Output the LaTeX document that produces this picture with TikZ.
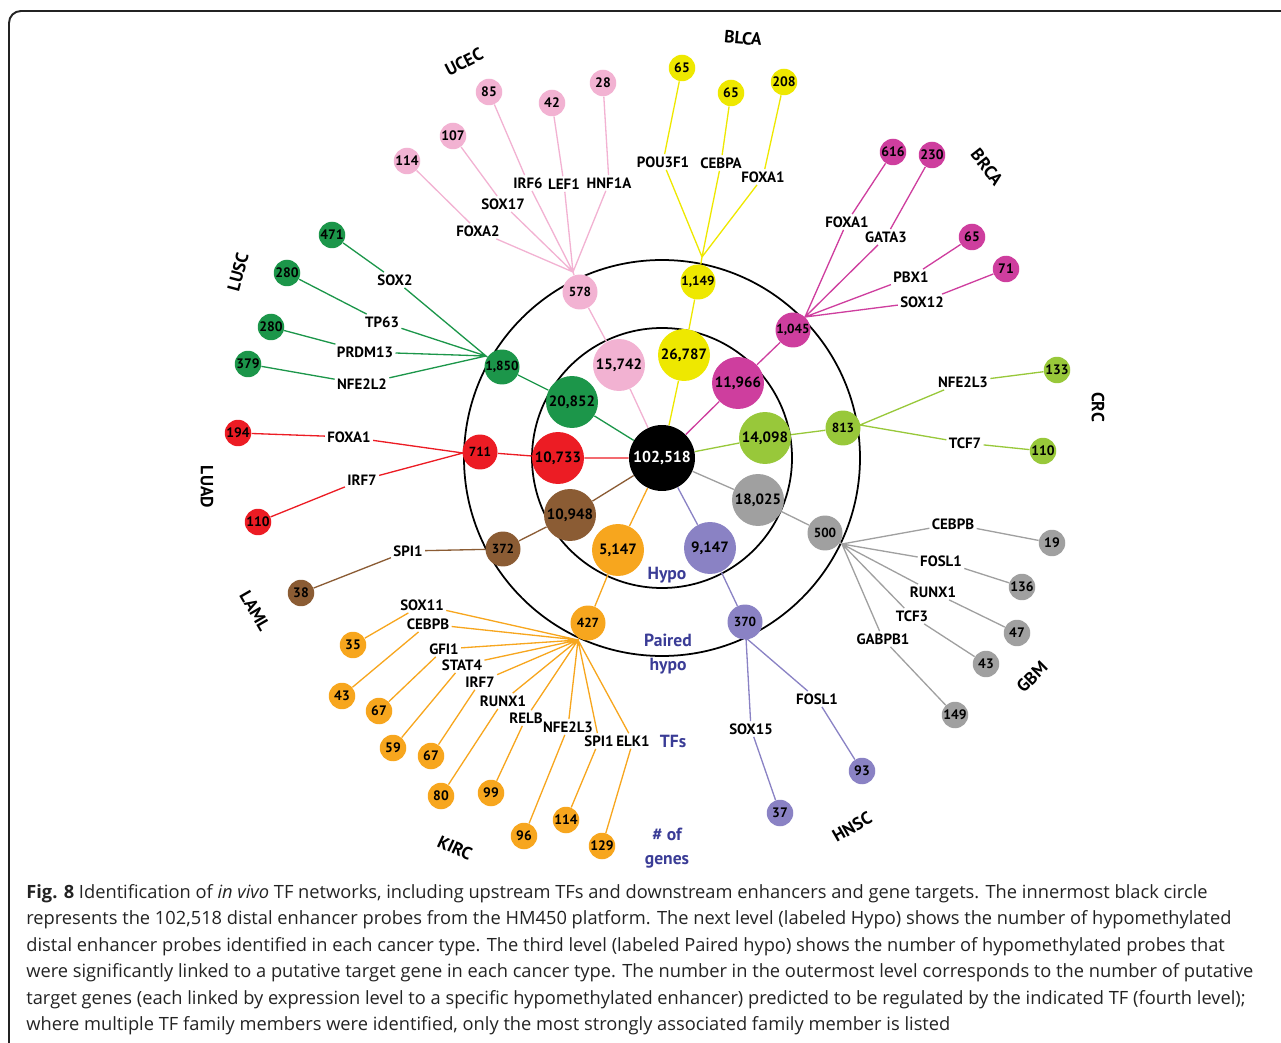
\documentclass[tikz,border=0pt]{standalone}
\usepackage{fontspec}
\setmainfont{PT Sans}
\newfontfamily\capfont{Open Sans}
\usepackage{xcolor}
\definecolor{ucec}{RGB}{242,178,210}
\definecolor{blca}{RGB}{238,232,0}
\definecolor{brca}{RGB}{206,62,158}
\definecolor{crc}{RGB}{152,200,58}
\definecolor{gbm}{RGB}{160,160,160}
\definecolor{hnsc}{RGB}{138,130,196}
\definecolor{kirc}{RGB}{247,166,30}
\definecolor{laml}{RGB}{139,92,52}
\definecolor{luad}{RGB}{236,28,36}
\definecolor{lusc}{RGB}{28,150,74}
\definecolor{lvlblue}{RGB}{58,60,150}
\definecolor{capgray}{RGB}{35,35,35}
\tikzset{
    tnode/.style = {align=center, inner sep=0pt, text centered},
    core_node/.style = {tnode, circle, fill=black, text=white, minimum size=1.32cm, font=\bfseries\fontsize{9}{10}\selectfont},
    hypo_node/.style = {tnode, circle, fill=#1, minimum size=1.04cm, font=\bfseries\fontsize{8.5}{10}\selectfont},
    pair_node/.style = {tnode, circle, fill=#1, minimum size=0.7cm, font=\bfseries\fontsize{7.5}{9}\selectfont},
    leaf_node/.style = {tnode, circle, fill=#1, minimum size=0.53cm, font=\bfseries\fontsize{7.8}{9}\selectfont},
    tf/.style = {tnode, inner sep=1.2pt, font=\bfseries\fontsize{8.5}{10}\selectfont},
    cancer/.style = {tnode, font=\bfseries\fontsize{10}{12}\selectfont},
    lvl/.style = {tnode, text=lvlblue, font=\bfseries\fontsize{10}{13.6}\selectfont},
    link/.style = {draw=#1, line width=0.75pt},
    ring/.style = {draw=black, line width=1pt},
    caption/.style = {align=left, inner sep=0pt, text=capgray, font=\capfont\fontsize{10.4}{15.1}\selectfont}
}
\begin{document}
\begin{tikzpicture}[x=0.02cm, y=-0.02cm]
\useasboundingbox (0,0) rectangle (1281,1043);
% frame
\draw[draw=capgray, line width=1.1pt, rounded corners=6.8pt] (9,1060) -- (9,11) -- (1300,11);
% levels
\coordinate (mid) at (662,458);
\draw[ring] (mid) circle[radius=198];
\draw[ring] (mid) circle[radius=130];
\node[core_node] (core) at (mid) {102,518};

% hypo level
\node[hypo_node=ucec] (h_ucec) at (619,365) {15,742};
\node[hypo_node=blca] (h_blca) at (684,355) {26,787};
\node[hypo_node=brca] (h_brca) at (738,383) {11,966};
\node[hypo_node=crc]  (h_crc)  at (765,438) {14,098};
\node[hypo_node=gbm]  (h_gbm)  at (758,500) {18,025};
\node[hypo_node=hnsc] (h_hnsc) at (710,548) {9,147};
\node[hypo_node=kirc] (h_kirc) at (618,550) {5,147};
\node[hypo_node=laml] (h_laml) at (570,515) {10,948};
\node[hypo_node=luad] (h_luad) at (558,458) {10,733};
\node[hypo_node=lusc] (h_lusc) at (572,402) {20,852};

% paired hypo level
\node[pair_node=ucec] (p_ucec) at (580,292) {578};
\node[pair_node=blca] (p_blca) at (698,282) {1,149};
\node[pair_node=brca] (p_brca) at (793,330) {1,045};
\node[pair_node=crc]  (p_crc)  at (843,428) {813};
\node[pair_node=gbm]  (p_gbm)  at (825,533) {500};
\node[pair_node=hnsc] (p_hnsc) at (745,622) {370};
\node[pair_node=kirc] (p_kirc) at (588,623) {427};
\node[pair_node=laml] (p_laml) at (503,549) {372};
\node[pair_node=luad] (p_luad) at (480,452) {711};
\node[pair_node=lusc] (p_lusc) at (502,367) {1,850};

\coordinate (hub_ucec) at (573,272);
\coordinate (hub_blca) at (702,257);
\coordinate (hub_brca) at (805,317);
\coordinate (hub_crc)  at (860,425);
\coordinate (hub_gbm)  at (842,544);
\coordinate (hub_hnsc) at (746,638);
\coordinate (hub_kirc) at (578,640);
\coordinate (hub_luad) at (463,453);
\coordinate (hub_lusc) at (486,356);

% level labels
\node[lvl] (lv_hypo) at (667,575) {Hypo};
\node[lvl] (lv_pair) at (668,654) {Paired\\hypo};
\node[lvl] (lv_tf) at (673,741) {TFs};
\node[lvl] (lv_gene) at (667,848) {\# of\\genes};

% cancer types
\node[cancer, rotate=27]  (c_ucec) at (464,62)   {UCEC};
\node[cancer, rotate=-5]  (c_blca) at (743,38)   {BLCA};
\node[cancer, rotate=-52] (c_brca) at (987,167)  {BRCA};
\node[cancer, rotate=-90] (c_crc)  at (1098,407) {CRC};
\node[cancer, rotate=45]  (c_gbm)  at (1032,677) {GBM};
\node[cancer, rotate=30]  (c_hnsc) at (852,827)  {HNSC};
\node[cancer, rotate=-25] (c_kirc) at (455,848)  {KIRC};
\node[cancer, rotate=-60] (c_laml) at (255,611)  {LAML};
\node[cancer, rotate=-90] (c_luad) at (207,487)  {LUAD};
\node[cancer, rotate=75]  (c_lusc) at (238,272)  {LUSC};

% UCEC
\node[leaf_node=ucec] (l_ucec1) at (407,161) {114};
\node[leaf_node=ucec] (l_ucec2) at (453,136) {107};
\node[leaf_node=ucec] (l_ucec3) at (489,92)  {85};
\node[leaf_node=ucec] (l_ucec4) at (552,103) {42};
\node[leaf_node=ucec] (l_ucec5) at (603,83)  {28};
\node[tf] (t_ucec1) at (478,231) {FOXA2};
\node[tf] (t_ucec2) at (503,204) {SOX17};
\node[tf] (t_ucec3) at (528,183) {IRF6};
\node[tf] (t_ucec4) at (564,184) {LEF1};
\node[tf] (t_ucec5) at (609,183) {HNF1A};
% BLCA
\node[leaf_node=blca] (l_blca1) at (682,68) {65};
\node[leaf_node=blca] (l_blca2) at (731,93) {65};
\node[leaf_node=blca] (l_blca3) at (784,82) {208};
\node[tf] (t_blca1) at (663,162) {POU3F1};
\node[tf] (t_blca2) at (721,163) {CEBPA};
\node[tf] (t_blca3) at (763,177) {FOXA1};
% BRCA
\node[leaf_node=brca] (l_brca1) at (893,152)  {616};
\node[leaf_node=brca] (l_brca2) at (932,155)  {230};
\node[leaf_node=brca] (l_brca3) at (972,237)  {65};
\node[leaf_node=brca] (l_brca4) at (1006,269) {71};
\node[tf] (t_brca1) at (847,222) {FOXA1};
\node[tf] (t_brca2) at (886,237) {GATA3};
\node[tf] (t_brca3) at (911,277) {PBX1};
\node[tf] (t_brca4) at (922,302) {SOX12};
% CRC
\node[leaf_node=crc] (l_crc1) at (1057,370) {133};
\node[leaf_node=crc] (l_crc2) at (1043,451) {110};
\node[tf] (t_crc1) at (963,382) {NFE2L3};
\node[tf] (t_crc2) at (965,443) {TCF7};
% GBM
\node[leaf_node=gbm] (l_gbm1) at (1052,543) {19};
\node[leaf_node=gbm] (l_gbm2) at (1022,587) {136};
\node[leaf_node=gbm] (l_gbm3) at (1017,633) {47};
\node[leaf_node=gbm] (l_gbm4) at (986,664)  {43};
\node[leaf_node=gbm] (l_gbm5) at (955,715)  {149};
\node[tf] (t_gbm1) at (953,524) {CEBPB};
\node[tf] (t_gbm2) at (941,561) {FOSL1};
\node[tf] (t_gbm3) at (933,592) {RUNX1};
\node[tf] (t_gbm4) at (912,616) {TCF3};
\node[tf] (t_gbm5) at (883,639) {GABPB1};
% HNSC
\node[leaf_node=hnsc] (l_hnsc1) at (862,771) {93};
\node[leaf_node=hnsc] (l_hnsc2) at (780,813) {37};
\node[tf] (t_hnsc1) at (817,699) {FOSL1};
\node[tf] (t_hnsc2) at (751,729) {SOX15};
% KIRC
\node[leaf_node=kirc] (l_kirc1)  at (353,645) {35};
\node[leaf_node=kirc] (l_kirc2)  at (342,696) {43};
\node[leaf_node=kirc] (l_kirc3)  at (379,711) {67};
\node[leaf_node=kirc] (l_kirc4)  at (393,748) {59};
\node[leaf_node=kirc] (l_kirc5)  at (431,756) {67};
\node[leaf_node=kirc] (l_kirc6)  at (441,796) {80};
\node[leaf_node=kirc] (l_kirc7)  at (491,793) {99};
\node[leaf_node=kirc] (l_kirc8)  at (524,836) {96};
\node[leaf_node=kirc] (l_kirc9)  at (566,820) {114};
\node[leaf_node=kirc] (l_kirc10) at (602,846) {129};
\node[tf] (t_kirc1)  at (422,605) {SOX11};
\node[tf] (t_kirc2)  at (428,624) {CEBPB};
\node[tf] (t_kirc3)  at (444,649) {GFI1};
\node[tf] (t_kirc4)  at (462,665) {STAT4};
\node[tf] (t_kirc5)  at (480,682) {IRF7};
\node[tf] (t_kirc6)  at (503,701) {RUNX1};
\node[tf] (t_kirc7)  at (526,718) {RELB};
\node[tf] (t_kirc8)  at (568,727) {NFE2L3};
\node[tf] (t_kirc9)  at (599,741) {SPI1};
\node[tf] (t_kirc10) at (633,741) {ELK1};
% LAML
\node[leaf_node=laml] (l_laml1) at (301,593) {38};
\node[tf] (t_laml1) at (408,551) {SPI1};
% LUAD
\node[leaf_node=luad] (l_luad1) at (238,433) {194};
\node[leaf_node=luad] (l_luad2) at (258,522) {110};
\node[tf] (t_luad1) at (349,437) {FOXA1};
\node[tf] (t_luad2) at (362,480) {IRF7};
% LUSC
\node[leaf_node=lusc] (l_lusc1) at (332,235) {471};
\node[leaf_node=lusc] (l_lusc2) at (287,273) {280};
\node[leaf_node=lusc] (l_lusc3) at (271,327) {280};
\node[leaf_node=lusc] (l_lusc4) at (248,364) {379};
\node[tf] (t_lusc1) at (395,280) {SOX2};
\node[tf] (t_lusc2) at (382,322) {TP63};
\node[tf] (t_lusc3) at (365,352) {PRDM13};
\node[tf] (t_lusc4) at (362,384) {NFE2L2};

% core to hypo to paired hypo
\draw[link=ucec] (core) -- (h_ucec) -- (p_ucec) -- (hub_ucec);
\draw[link=blca] (core) -- (h_blca) -- (p_blca) -- (hub_blca);
\draw[link=brca] (core) -- (h_brca) -- (p_brca) -- (hub_brca);
\draw[link=crc]  (core) -- (h_crc)  -- (p_crc)  -- (hub_crc);
\draw[link=gbm]  (core) -- (h_gbm)  -- (p_gbm)  -- (hub_gbm);
\draw[link=hnsc] (core) -- (h_hnsc) -- (p_hnsc) -- (hub_hnsc);
\draw[link=kirc] (core) -- (h_kirc) -- (p_kirc) -- (hub_kirc);
\draw[link=laml] (core) -- (h_laml) -- (p_laml);
\draw[link=luad] (core) -- (h_luad) -- (p_luad) -- (hub_luad);
\draw[link=lusc] (core) -- (h_lusc) -- (p_lusc) -- (hub_lusc);

% TFs to target genes
\draw[link=ucec] (l_ucec1) -- (t_ucec1) (t_ucec1) -- (hub_ucec)
                 (l_ucec2) -- (t_ucec2) (t_ucec2) -- (hub_ucec)
                 (l_ucec3) -- (t_ucec3) (t_ucec3) -- (hub_ucec)
                 (l_ucec4) -- (t_ucec4) (t_ucec4) -- (hub_ucec)
                 (l_ucec5) -- (t_ucec5) (t_ucec5) -- (hub_ucec);
\draw[link=blca] (l_blca1) -- (t_blca1) (t_blca1) -- (hub_blca)
                 (l_blca2) -- (t_blca2) (t_blca2) -- (hub_blca)
                 (l_blca3) -- (t_blca3) (t_blca3) -- (hub_blca);
\draw[link=brca] (l_brca1) -- (t_brca1) (t_brca1) -- (hub_brca)
                 (l_brca2) -- (t_brca2) (t_brca2) -- (hub_brca)
                 (l_brca3) -- (t_brca3) (t_brca3) -- (hub_brca)
                 (l_brca4) -- (t_brca4) (t_brca4) -- (hub_brca);
\draw[link=crc]  (l_crc1) -- (t_crc1) (t_crc1) -- (hub_crc)
                 (l_crc2) -- (t_crc2) (t_crc2) -- (hub_crc);
\draw[link=gbm]  (l_gbm1) -- (t_gbm1) (t_gbm1) -- (hub_gbm)
                 (l_gbm2) -- (t_gbm2) (t_gbm2) -- (hub_gbm)
                 (l_gbm3) -- (t_gbm3) (t_gbm3) -- (hub_gbm)
                 (l_gbm4) -- (t_gbm4) (t_gbm4) -- (hub_gbm)
                 (l_gbm5) -- (t_gbm5) (t_gbm5) -- (hub_gbm);
\draw[link=hnsc] (l_hnsc1) -- (t_hnsc1) (t_hnsc1) -- (hub_hnsc)
                 (l_hnsc2) -- (t_hnsc2) (t_hnsc2) -- (hub_hnsc);
\draw[link=kirc] (l_kirc1) -- (t_kirc1) (t_kirc1) -- (hub_kirc)
                 (l_kirc2) -- (t_kirc2) (t_kirc2) -- (hub_kirc)
                 (l_kirc3) -- (t_kirc3) (t_kirc3) -- (hub_kirc)
                 (l_kirc4) -- (t_kirc4) (t_kirc4) -- (hub_kirc)
                 (l_kirc5) -- (t_kirc5) (t_kirc5) -- (hub_kirc)
                 (l_kirc6) -- (t_kirc6) (t_kirc6) -- (hub_kirc)
                 (l_kirc7) -- (t_kirc7) (t_kirc7) -- (hub_kirc)
                 (l_kirc8) -- (t_kirc8) (t_kirc8) -- (hub_kirc)
                 (l_kirc9) -- (t_kirc9) (t_kirc9) -- (hub_kirc)
                 (l_kirc10) -- (t_kirc10) (t_kirc10) -- (hub_kirc);
\draw[link=laml] (l_laml1) -- (t_laml1) (t_laml1) -- (p_laml);
\draw[link=luad] (l_luad1) -- (t_luad1) (t_luad1) -- (hub_luad)
                 (l_luad2) -- (t_luad2) (t_luad2) -- (hub_luad);
\draw[link=lusc] (l_lusc1) -- (t_lusc1) (t_lusc1) -- (hub_lusc)
                 (l_lusc2) -- (t_lusc2) (t_lusc2) -- (hub_lusc)
                 (l_lusc3) -- (t_lusc3) (t_lusc3) -- (hub_lusc)
                 (l_lusc4) -- (t_lusc4) (t_lusc4) -- (hub_lusc);

% caption
\node[caption, anchor=north west] (cap) at (26,884) {\textbf{Fig. 8} Identification of \textit{in vivo} TF networks, including upstream TFs and downstream enhancers and gene targets. The innermost black circle\\
represents the 102,518 distal enhancer probes from the HM450 platform. The next level (labeled Hypo) shows the number of hypomethylated\\
distal enhancer probes identified in each cancer type. The third level (labeled Paired hypo) shows the number of hypomethylated probes that\\
were significantly linked to a putative target gene in each cancer type. The number in the outermost level corresponds to the number of putative\\
target genes (each linked by expression level to a specific hypomethylated enhancer) predicted to be regulated by the indicated TF (fourth level);\\
where multiple TF family members were identified, only the most strongly associated family member is listed};
\end{tikzpicture}
\end{document}
